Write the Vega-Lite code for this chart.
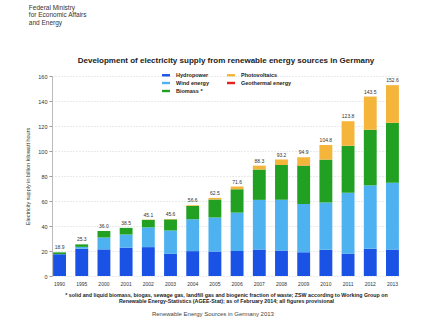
{
  "$schema": "https://vega.github.io/schema/vega-lite/v6.json",
  "background": "white",
  "padding": {"left": 25, "top": 4, "right": 4, "bottom": 1},
  "config": {"font": "Liberation Sans", "view": {"stroke": null}, "concat": {"spacing": 0}},
  "title": {"text": ["Federal Ministry", "for Economic Affairs", "and Energy"], "anchor": "start", "fontSize": 6.5, "fontWeight": "normal", "lineHeight": 7.5, "color": "#333", "offset": 31, "dx": 3},
  "vconcat": [
    {
      "title": {"text": "Renewable Energy Sources in Germany 2013", "orient": "bottom", "anchor": "middle", "fontSize": 6, "fontWeight": "normal", "color": "#444", "offset": 7},
      "vconcat": [
        {
          "width": 348,
          "height": 200,
          "title": {"text": "Development of electricity supply from renewable energy sources in Germany", "anchor": "middle", "fontSize": 8, "fontWeight": "bold", "color": "#222", "offset": 9},
          "data": {"values": [
            {"year": "1990", "Hydropower": 17.4, "Wind energy": 0.1, "Biomass *": 1.4, "Geothermal energy": 0, "Photovoltaics": 0, "total": 18.9},
            {"year": "1995", "Hydropower": 21.8, "Wind energy": 1.5, "Biomass *": 2.0, "Geothermal energy": 0, "Photovoltaics": 0, "total": 25.3},
            {"year": "2000", "Hydropower": 21.3, "Wind energy": 9.5, "Biomass *": 5.2, "Geothermal energy": 0, "Photovoltaics": 0, "total": 36.0},
            {"year": "2001", "Hydropower": 22.7, "Wind energy": 10.5, "Biomass *": 5.3, "Geothermal energy": 0, "Photovoltaics": 0, "total": 38.5},
            {"year": "2002", "Hydropower": 23.1, "Wind energy": 15.8, "Biomass *": 6.0, "Geothermal energy": 0, "Photovoltaics": 0.2, "total": 45.1},
            {"year": "2003", "Hydropower": 17.7, "Wind energy": 18.7, "Biomass *": 8.9, "Geothermal energy": 0, "Photovoltaics": 0.3, "total": 45.6},
            {"year": "2004", "Hydropower": 19.9, "Wind energy": 25.5, "Biomass *": 10.6, "Geothermal energy": 0, "Photovoltaics": 0.6, "total": 56.6},
            {"year": "2005", "Hydropower": 19.6, "Wind energy": 27.2, "Biomass *": 14.4, "Geothermal energy": 0, "Photovoltaics": 1.3, "total": 62.5},
            {"year": "2006", "Hydropower": 20.0, "Wind energy": 30.7, "Biomass *": 18.7, "Geothermal energy": 0, "Photovoltaics": 2.2, "total": 71.6},
            {"year": "2007", "Hydropower": 21.2, "Wind energy": 39.7, "Biomass *": 24.3, "Geothermal energy": 0, "Photovoltaics": 3.1, "total": 88.3},
            {"year": "2008", "Hydropower": 20.4, "Wind energy": 40.6, "Biomass *": 27.8, "Geothermal energy": 0.02, "Photovoltaics": 4.4, "total": 93.2},
            {"year": "2009", "Hydropower": 19.0, "Wind energy": 38.6, "Biomass *": 30.7, "Geothermal energy": 0.02, "Photovoltaics": 6.6, "total": 94.9},
            {"year": "2010", "Hydropower": 21.0, "Wind energy": 37.8, "Biomass *": 34.3, "Geothermal energy": 0.03, "Photovoltaics": 11.7, "total": 104.8},
            {"year": "2011", "Hydropower": 17.7, "Wind energy": 48.9, "Biomass *": 37.6, "Geothermal energy": 0.02, "Photovoltaics": 19.6, "total": 123.8},
            {"year": "2012", "Hydropower": 21.8, "Wind energy": 50.7, "Biomass *": 44.5, "Geothermal energy": 0.03, "Photovoltaics": 26.5, "total": 143.5},
            {"year": "2013", "Hydropower": 21.2, "Wind energy": 53.4, "Biomass *": 47.9, "Geothermal energy": 0.08, "Photovoltaics": 30.1, "total": 152.6}
          ]},
          "encoding": {
            "x": {
              "field": "year", "type": "ordinal",
              "scale": {"paddingInner": 0.42, "paddingOuter": 0.05},
              "axis": {
                "labelAngle": 0, "labelFontSize": 5, "labelColor": "#333", "ticks": false, "domain": false, "labelPadding": 5,
                "title": ["* solid and liquid biomass, biogas, sewage gas, landfill gas and biogenic fraction of waste; ZSW according to Working Group on", "Renewable Energy-Statistics (AGEE-Stat); as of February 2014; all figures provisional"],
                "titleFontSize": 5.3, "titleFontWeight": "bold", "titleColor": "#222", "titlePadding": 6, "titleLineHeight": 6.5
              }
            }
          },
          "layer": [
            {
              "transform": [
                {"fold": ["Hydropower", "Wind energy", "Biomass *", "Geothermal energy", "Photovoltaics"], "as": ["source", "value"]},
                {"calculate": "indexof(['Hydropower', 'Wind energy', 'Biomass *', 'Geothermal energy', 'Photovoltaics'], datum.source)", "as": "stackorder"}
              ],
              "mark": {"type": "bar"},
              "encoding": {
                "y": {
                  "field": "value", "type": "quantitative", "stack": "zero",
                  "scale": {"domain": [0, 160], "nice": false},
                  "axis": {
                    "values": [0, 20, 40, 60, 80, 100, 120, 140, 160], "labelOverlap": false,
                    "labelFontSize": 5.5, "labelColor": "#333", "tickSize": 3, "tickColor": "#999", "domainColor": "#bbb", "labelPadding": 2,
                    "gridDash": [1, 2], "gridColor": "#d5d5d5",
                    "title": "Electricity supply in billion kilowatt hours", "titleFontSize": 5.5, "titleFontWeight": "normal", "titleColor": "#333", "titlePadding": 7
                  }
                },
                "color": {
                  "field": "source", "type": "nominal",
                  "scale": {
                    "domain": ["Hydropower", "Wind energy", "Biomass *", "Photovoltaics", "Geothermal energy"],
                    "range": ["#1b52e6", "#4db2ef", "#22a022", "#f5b43a", "#e3211c"]
                  },
                  "legend": {
                    "orient": "none", "legendX": 110, "legendY": -5, "columns": 2, "columnPadding": 18, "rowPadding": 0,
                    "title": null, "symbolType": "M-1,-0.3H1V0.3H-1Z", "symbolSize": 64, "symbolStrokeWidth": 0,
                    "labelFontSize": 5.5, "labelFontWeight": "bold", "labelColor": "#222", "labelOffset": 6
                  }
                },
                "order": {"field": "stackorder", "type": "quantitative", "sort": "ascending"}
              }
            },
            {
              "mark": {"type": "text", "fontSize": 5, "color": "#333", "dy": -5},
              "encoding": {
                "y": {"field": "total", "type": "quantitative", "scale": {"domain": [0, 160], "nice": false}, "axis": {"values": [0, 20, 40, 60, 80, 100, 120, 140, 160], "labelOverlap": false}},
                "text": {"field": "total", "type": "quantitative", "format": ".1f"}
              }
            }
          ]
        }
      ]
    }
  ]
}
